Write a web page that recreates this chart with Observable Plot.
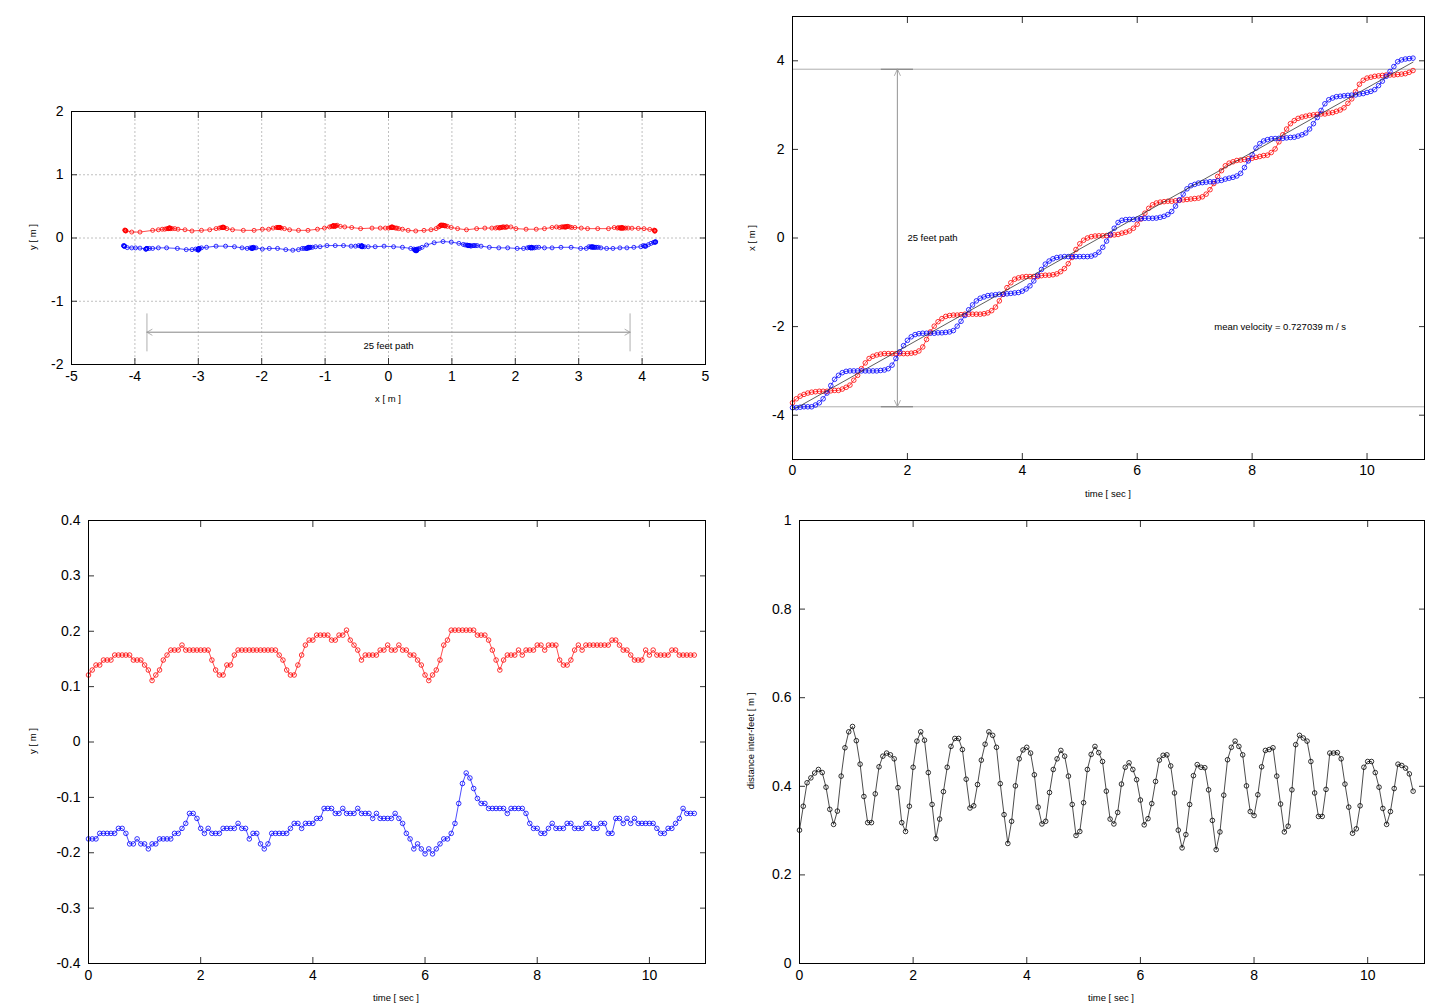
<!DOCTYPE html>
<html><head><meta charset="utf-8">
<script src="https://cdn.jsdelivr.net/npm/d3@7"></script>
<script src="https://cdn.jsdelivr.net/npm/@observablehq/plot@0.6"></script>
<style>
body{margin:0;background:#fff;}
#root{position:relative;width:1440px;height:1008px;overflow:hidden;background:#fff;font-family:"Liberation Sans",Arial,Helvetica,sans-serif;}
.panel{position:absolute;}
.lbl{position:absolute;font-size:9.5px;white-space:nowrap;transform:translate(-50%,-50%);color:#000;line-height:1;}
.lbl.rot{transform:translate(-50%,-50%) rotate(-90deg);}
</style></head><body><div id="root"></div>
<script>
// ---- data (sampling 15 Hz) ----
const sampleRate = 15;
const yRed = [
0.121,0.130,0.139,0.139,0.148,0.148,0.148,0.157,0.157,0.157,
0.157,0.157,0.148,0.148,0.148,0.139,0.130,0.111,0.121,0.130,
0.148,0.157,0.166,0.166,0.166,0.175,0.166,0.166,0.166,0.166,
0.166,0.166,0.166,0.148,0.130,0.121,0.121,0.139,0.139,0.157,
0.166,0.166,0.166,0.166,0.166,0.166,0.166,0.166,0.166,0.166,
0.166,0.157,0.148,0.130,0.121,0.121,0.139,0.157,0.175,0.184,
0.184,0.193,0.193,0.193,0.193,0.184,0.184,0.193,0.193,0.202,
0.184,0.175,0.166,0.148,0.157,0.157,0.157,0.157,0.166,0.166,
0.175,0.166,0.166,0.175,0.166,0.166,0.157,0.157,0.148,0.139,
0.121,0.111,0.121,0.130,0.148,0.175,0.184,0.202,0.202,0.202,
0.202,0.202,0.202,0.202,0.193,0.193,0.193,0.184,0.166,0.148,
0.130,0.148,0.157,0.157,0.157,0.166,0.157,0.166,0.166,0.166,
0.175,0.175,0.166,0.175,0.175,0.175,0.148,0.139,0.139,0.148,
0.166,0.175,0.166,0.175,0.175,0.175,0.175,0.175,0.175,0.175,
0.184,0.184,0.175,0.166,0.166,0.157,0.148,0.148,0.148,0.166,
0.157,0.166,0.157,0.157,0.157,0.157,0.166,0.166,0.157,0.157,
0.157,0.157,0.157];
const yBlue = [
-0.175,-0.175,-0.175,-0.165,-0.165,-0.165,-0.165,-0.165,-0.156,-0.156,
-0.165,-0.184,-0.184,-0.175,-0.184,-0.184,-0.193,-0.184,-0.184,-0.175,
-0.175,-0.175,-0.175,-0.165,-0.165,-0.156,-0.147,-0.129,-0.129,-0.138,
-0.156,-0.165,-0.156,-0.165,-0.165,-0.165,-0.156,-0.156,-0.156,-0.156,
-0.147,-0.156,-0.156,-0.175,-0.165,-0.165,-0.184,-0.193,-0.184,-0.165,
-0.165,-0.165,-0.165,-0.165,-0.156,-0.147,-0.147,-0.156,-0.147,-0.147,
-0.147,-0.138,-0.138,-0.120,-0.120,-0.120,-0.129,-0.129,-0.120,-0.129,
-0.129,-0.129,-0.120,-0.129,-0.129,-0.129,-0.138,-0.129,-0.138,-0.138,
-0.138,-0.138,-0.129,-0.138,-0.147,-0.165,-0.175,-0.193,-0.184,-0.193,
-0.202,-0.193,-0.202,-0.193,-0.184,-0.175,-0.175,-0.165,-0.147,-0.111,
-0.075,-0.056,-0.065,-0.084,-0.102,-0.111,-0.111,-0.120,-0.120,-0.120,
-0.120,-0.120,-0.129,-0.120,-0.120,-0.120,-0.120,-0.129,-0.147,-0.156,
-0.156,-0.165,-0.165,-0.156,-0.147,-0.156,-0.156,-0.156,-0.147,-0.147,
-0.156,-0.156,-0.156,-0.147,-0.147,-0.156,-0.156,-0.147,-0.147,-0.165,
-0.165,-0.138,-0.138,-0.147,-0.138,-0.147,-0.138,-0.147,-0.147,-0.147,
-0.147,-0.147,-0.156,-0.165,-0.165,-0.156,-0.156,-0.147,-0.138,-0.120,
-0.129,-0.129,-0.129];
const xRed = [
-3.72,-3.63,-3.57,-3.53,-3.50,-3.48,-3.47,-3.46,-3.46,-3.46,
-3.45,-3.44,-3.44,-3.41,-3.37,-3.32,-3.21,-3.10,-2.95,-2.82,
-2.72,-2.67,-2.64,-2.62,-2.61,-2.61,-2.61,-2.61,-2.61,-2.61,
-2.61,-2.60,-2.59,-2.55,-2.46,-2.29,-2.12,-1.99,-1.89,-1.82,
-1.77,-1.75,-1.74,-1.74,-1.73,-1.72,-1.72,-1.72,-1.72,-1.72,
-1.71,-1.69,-1.64,-1.56,-1.42,-1.27,-1.12,-1.01,-0.93,-0.90,
-0.88,-0.87,-0.87,-0.87,-0.87,-0.85,-0.84,-0.84,-0.83,-0.81,
-0.76,-0.69,-0.58,-0.44,-0.26,-0.13,-0.05,0.00,0.03,0.045,
0.05,0.05,0.055,0.06,0.07,0.08,0.11,0.13,0.16,0.22,
0.31,0.43,0.56,0.67,0.75,0.79,0.81,0.82,0.83,0.83,
0.84,0.85,0.86,0.87,0.88,0.89,0.90,0.93,0.99,1.09,
1.23,1.39,1.52,1.63,1.69,1.72,1.75,1.76,1.77,1.79,
1.80,1.82,1.84,1.86,1.87,1.93,2.01,2.17,2.33,2.46,
2.58,2.65,2.70,2.73,2.75,2.77,2.78,2.79,2.80,2.80,
2.82,2.83,2.86,2.89,2.94,3.04,3.14,3.30,3.47,3.56,
3.61,3.63,3.65,3.66,3.67,3.68,3.68,3.68,3.69,3.70,
3.71,3.74,3.78];
const xBlue = [
-3.83,-3.83,-3.82,-3.81,-3.81,-3.81,-3.77,-3.72,-3.63,-3.50,
-3.33,-3.19,-3.10,-3.04,-3.01,-3.00,-3.00,-3.00,-3.00,-3.00,
-3.00,-3.00,-3.00,-2.99,-2.98,-2.95,-2.87,-2.72,-2.57,-2.43,
-2.31,-2.23,-2.18,-2.16,-2.15,-2.15,-2.15,-2.15,-2.14,-2.14,
-2.13,-2.12,-2.09,-1.99,-1.88,-1.75,-1.62,-1.51,-1.42,-1.36,
-1.33,-1.30,-1.29,-1.28,-1.27,-1.27,-1.26,-1.25,-1.24,-1.23,
-1.20,-1.15,-1.08,-0.97,-0.84,-0.71,-0.59,-0.52,-0.47,-0.44,
-0.43,-0.42,-0.42,-0.42,-0.42,-0.42,-0.42,-0.42,-0.41,-0.38,
-0.32,-0.21,-0.07,0.08,0.22,0.35,0.40,0.415,0.42,0.42,
0.43,0.437,0.445,0.445,0.445,0.45,0.467,0.49,0.53,0.60,
0.72,0.86,0.99,1.11,1.18,1.21,1.24,1.25,1.26,1.27,
1.27,1.29,1.30,1.33,1.35,1.37,1.40,1.46,1.59,1.74,
1.88,2.03,2.13,2.19,2.22,2.24,2.245,2.25,2.25,2.26,
2.27,2.275,2.30,2.33,2.37,2.46,2.58,2.72,2.88,3.03,
3.12,3.16,3.19,3.20,3.21,3.22,3.225,3.23,3.25,3.26,
3.285,3.31,3.35,3.44,3.54,3.65,3.76,3.87,3.98,4.02,
4.04,4.05,4.06];
const distFeet = [
0.301,0.355,0.408,0.419,0.430,0.438,0.431,0.398,0.348,0.314,
0.344,0.423,0.487,0.523,0.535,0.503,0.450,0.377,0.318,0.318,
0.383,0.444,0.468,0.475,0.471,0.462,0.397,0.318,0.298,0.355,
0.443,0.502,0.523,0.504,0.431,0.359,0.282,0.326,0.388,0.443,
0.490,0.508,0.508,0.483,0.416,0.351,0.356,0.404,0.459,0.495,
0.523,0.515,0.488,0.406,0.336,0.271,0.321,0.401,0.462,0.482,
0.488,0.475,0.426,0.353,0.315,0.321,0.386,0.438,0.462,0.481,
0.468,0.423,0.359,0.289,0.298,0.363,0.438,0.472,0.490,0.476,
0.456,0.389,0.326,0.315,0.341,0.405,0.443,0.453,0.438,0.415,
0.369,0.313,0.327,0.361,0.411,0.459,0.470,0.471,0.446,0.385,
0.301,0.261,0.291,0.359,0.424,0.449,0.443,0.442,0.392,0.323,
0.257,0.297,0.380,0.460,0.488,0.502,0.490,0.471,0.401,0.343,
0.334,0.381,0.444,0.481,0.483,0.487,0.423,0.360,0.297,0.310,
0.392,0.494,0.515,0.509,0.502,0.456,0.385,0.332,0.332,0.393,
0.475,0.475,0.476,0.462,0.405,0.353,0.294,0.304,0.356,0.443,
0.456,0.456,0.431,0.398,0.350,0.314,0.343,0.395,0.450,0.447,
0.441,0.428,0.389];
// extra path samples (before / after the analysed window) visible in the x-y plot
const redPreX  = [-4.16,-4.155,-4.15,-4.15,-4.145,-4.14,-4.05,-3.92];
const redPreY  = [0.126,0.120,0.114,0.121,0.110,0.116,0.094,0.094];
const redPostX = [3.84,3.94,4.03,4.12,4.19,4.2,4.2,4.205,4.2];
const redPostY = [0.155,0.152,0.147,0.136,0.125,0.120,0.112,0.118,0.106];
const bluePreX = [-4.18,-4.175,-4.17,-4.165,-4.16,-4.12,-4.05,-3.99,-3.92];
const bluePreY = [-0.120,-0.126,-0.131,-0.124,-0.130,-0.152,-0.157,-0.157,-0.160];
const bluePostX = [4.10,4.14,4.18,4.20,4.21,4.21,4.215];
const bluePostY = [-0.105,-0.085,-0.070,-0.065,-0.060,-0.066,-0.062];
// annotations
const pathEnds = [-3.81, 3.81];
const fitT = [0, 10.8];
const fitX = [-3.885, 3.97];
const meanVelocityLabel = "mean velocity = 0.727039 m / s";
const pathLabel = "25 feet path";
const arrowTime = 1.826;

// ---- tables ----
const time = yRed.map((_, i) => i / sampleRate);
const redT = time.map((t, i) => ({t, x: xRed[i], y: yRed[i]}));
const blueT = time.map((t, i) => ({t, x: xBlue[i], y: yBlue[i]}));
const distT = time.map((t, i) => ({t, d: distFeet[i]}));
const pts = (xs, ys) => xs.map((x, i) => ({x, y: ys[i]}));
const redXY = [...pts(redPreX, redPreY), ...pts(xRed, yRed), ...pts(redPostX, redPostY)];
const blueXY = [...pts(bluePreX, bluePreY), ...pts(xBlue, yBlue), ...pts(bluePostX, bluePostY)];
const fitRows = fitT.map((t, i) => ({t, x: fitX[i]}));

const RED = "#ff0000", BLUE = "#0000ff", REF = "#9a9a9a";
const FONT = '"Liberation Sans", Arial, Helvetica, sans-serif';
const fmt1 = d => Number.isInteger(d) ? String(d) : d.toFixed(1);
const fmt0 = d => String(d);

const root = document.getElementById("root");

function panel({left, top, width, height, m, xDomain, yDomain, xTicks, yTicks, fmtX, fmtY, marks, padX = 7}) {
  const tk = {tickSize: -6, tickFormat: () => "", stroke: "#333", label: null};
  const chart = Plot.plot({
    width, height,
    marginTop: m[0], marginRight: m[1], marginBottom: m[2], marginLeft: m[3],
    x: {domain: xDomain}, y: {domain: yDomain},
    style: {fontFamily: FONT, fontSize: "14px", background: "white", overflow: "visible", color: "#000"},
    marks: [
      ...marks,
      Plot.axisX(xTicks, {anchor: "bottom", ...tk}),
      Plot.axisX(xTicks, {anchor: "top", ...tk}),
      Plot.axisY(yTicks, {anchor: "left", ...tk}),
      Plot.axisY(yTicks, {anchor: "right", ...tk}),
      Plot.axisX(xTicks, {anchor: "bottom", tickSize: 0, tickPadding: padX, tickFormat: fmtX, label: null, fontSize: 14}),
      Plot.axisY(yTicks, {anchor: "left", tickSize: 0, tickPadding: 8, tickFormat: fmtY, label: null, fontSize: 14}),
      Plot.frame({stroke: "#000", strokeWidth: 1})
    ]
  });
  chart.classList.add("panel");
  chart.style.left = left + "px";
  chart.style.top = top + "px";
  root.appendChild(chart);
}

function label(text, cx, cy, rot) {
  const d = document.createElement("div");
  d.className = "lbl" + (rot ? " rot" : "");
  d.style.left = cx + "px";
  d.style.top = cy + "px";
  d.textContent = text;
  root.appendChild(d);
}

const series = (data, xk, yk, color, r = 2.3) => [
  Plot.line(data, {x: xk, y: yk, stroke: color, strokeWidth: 0.7}),
  Plot.dot(data, {x: xk, y: yk, r, stroke: color, strokeWidth: 0.8, fill: "none"})
];

// Top-left: y vs x
panel({
  left: 0, top: 0, width: 720, height: 505, m: [111, 15, 141, 71],
  xDomain: [-5, 5], yDomain: [-2, 2],
  xTicks: d3.range(-5, 6), yTicks: d3.range(-2, 3), fmtX: fmt0, fmtY: fmt0,
  marks: [
    Plot.gridX(d3.range(-4, 5), {stroke: "#b0b0b0", strokeOpacity: 1, strokeDasharray: "2,2", strokeWidth: 0.8}),
    Plot.gridY([-1, 0, 1], {stroke: "#b0b0b0", strokeOpacity: 1, strokeDasharray: "2,2", strokeWidth: 0.8}),
    Plot.ruleX(pathEnds, {y1: -1.2, y2: -1.8, stroke: REF, strokeWidth: 0.8}),
    Plot.arrow([{}], {x1: pathEnds[0], x2: pathEnds[1], y1: -1.49, y2: -1.49, stroke: REF, strokeWidth: 0.8, headLength: 11, headAngle: 60}),
    Plot.arrow([{}], {x1: pathEnds[1], x2: pathEnds[0], y1: -1.49, y2: -1.49, stroke: REF, strokeWidth: 0.8, headLength: 11, headAngle: 60}),
    Plot.text([pathLabel], {x: 0, y: -1.7, text: d => d, fontSize: 9.5, textAnchor: "middle", fill: "#000"}),
    ...series(redXY, "x", "y", RED, 2),
    ...series(blueXY, "x", "y", BLUE, 2)
  ]
});

// Top-right: x vs time
panel({
  left: 720, top: 0, width: 720, height: 505, m: [16, 16, 46, 72],
  xDomain: [0, 11], yDomain: [-5, 5],
  xTicks: [0, 2, 4, 6, 8, 10], yTicks: [-4, -2, 0, 2, 4], fmtX: fmt0, fmtY: fmt0, padX: 6,
  marks: [
    Plot.ruleY(pathEnds, {stroke: REF, strokeWidth: 0.8}),
    Plot.ruleY(pathEnds, {x1: arrowTime - 0.28, x2: arrowTime + 0.28, stroke: "#777", strokeWidth: 1}),
    Plot.arrow([{}], {x1: arrowTime, x2: arrowTime, y1: pathEnds[0], y2: pathEnds[1], stroke: REF, strokeWidth: 0.8, headLength: 13, headAngle: 50}),
    Plot.arrow([{}], {x1: arrowTime, x2: arrowTime, y1: pathEnds[1], y2: pathEnds[0], stroke: REF, strokeWidth: 0.8, headLength: 13, headAngle: 50}),
    Plot.text([pathLabel], {x: 2.0, y: 0, text: d => d, fontSize: 9.5, textAnchor: "start", fill: "#000"}),
    Plot.text([meanVelocityLabel], {x: 7.34, y: -2.01, text: d => d, fontSize: 9.5, textAnchor: "start", fill: "#000"}),
    ...series(redT, "t", "x", RED),
    ...series(blueT, "t", "x", BLUE),
    Plot.line(fitRows, {x: "t", y: "x", stroke: "#333", strokeWidth: 0.8})
  ]
});

// Bottom-left: y vs time
panel({
  left: 0, top: 505, width: 720, height: 503, m: [15, 15, 45, 88],
  xDomain: [0, 11], yDomain: [-0.4, 0.4],
  xTicks: [0, 2, 4, 6, 8, 10], yTicks: [-0.4, -0.3, -0.2, -0.1, 0, 0.1, 0.2, 0.3, 0.4], fmtX: fmt0, fmtY: fmt1,
  marks: [
    ...series(redT, "t", "y", RED),
    ...series(blueT, "t", "y", BLUE)
  ]
});

// Bottom-right: inter-feet distance vs time
panel({
  left: 720, top: 505, width: 720, height: 503, m: [15, 16, 45, 79],
  xDomain: [0, 11], yDomain: [0, 1],
  xTicks: [0, 2, 4, 6, 8, 10], yTicks: [0, 0.2, 0.4, 0.6, 0.8, 1], fmtX: fmt0, fmtY: fmt1,
  marks: [
    ...series(distT, "t", "d", "#000")
  ]
});

// axis titles
label("x [ m ]", 388, 399);
label("y [ m ]", 33, 237, true);
label("time [ sec ]", 1108, 494);
label("x [ m ]", 752, 238, true);
label("time [ sec ]", 396, 998);
label("y [ m ]", 33, 741, true);
label("time [ sec ]", 1111, 998);
label("distance inter-feet [ m ]", 751, 741, true);
</script></body></html>
